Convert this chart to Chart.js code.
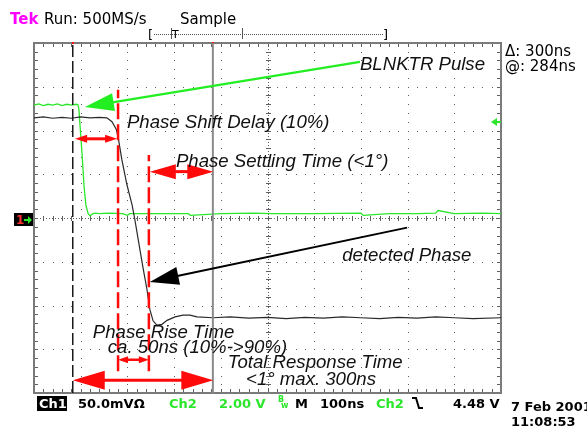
<!DOCTYPE html>
<html>
<head>
<meta charset="utf-8">
<script src="https://cdn.jsdelivr.net/npm/chart.js@4"></script>
<style>
  html, body { margin: 0; padding: 0; background: #fff; }
  canvas { display: block; }
</style>
</head>
<body>
<canvas id="scope" width="587" height="428"></canvas>
<script>
// time axis in ns (100 ns/div, 10 div), vertical axis in screen divisions (-4..4)
const ch2Time = [0, 10, 20, 30, 40, 50, 60, 70, 80, 90, 94, 96, 98, 103, 107, 111, 116, 120, 126, 132, 140, 160, 190, 200, 205, 260, 330, 335, 400, 470, 510, 600, 700, 705, 760, 820, 860, 865, 900, 960, 1000];
const ch2Div  = [2.58, 2.61, 2.57, 2.60, 2.58, 2.61, 2.57, 2.60, 2.58, 2.60, 2.59, 2.50, 2.20, 1.45, 0.75, 0.30, 0.10, 0.05, 0.10, 0.11, 0.10, 0.11, 0.10, 0.06, 0.10, 0.10, 0.10, 0.06, 0.10, 0.11, 0.10, 0.10, 0.11, 0.06, 0.10, 0.10, 0.11, 0.17, 0.10, 0.11, 0.10];

const ch1Time = [0, 20, 40, 60, 80, 100, 120, 140, 156, 167, 176, 180, 188, 199, 210, 216, 225, 233, 242, 248, 255, 263, 274, 285, 302, 319, 334, 349, 383, 420, 460, 500, 540, 580, 620, 660, 700, 740, 780, 820, 860, 900, 940, 1000];
const ch1Div  = [2.29, 2.31, 2.28, 2.30, 2.28, 2.31, 2.29, 2.30, 2.29, 2.20, 2.03, 1.86, 1.34, 0.76, 0.30, -0.04, -0.61, -1.11, -1.64, -2.09, -2.35, -2.45, -2.43, -2.34, -2.26, -2.22, -2.22, -2.26, -2.28, -2.26, -2.29, -2.27, -2.30, -2.27, -2.29, -2.26, -2.28, -2.30, -2.27, -2.29, -2.26, -2.28, -2.30, -2.28];

// cursors and measurement markers (ns)
const cursorA = 83;
const cursorB = 383;
const mark10 = 180;
const mark90 = 246;

// annotation arrows [x1, y1, x2, y2] in ns / div
const redArrows = [
  [88, 1.81, 178, 1.81],
  [248, 1.06, 384, 1.06],
  [180, -3.24, 246, -3.24],
  [83, -3.71, 384, -3.71]
];
const greenArrow = [698, 3.57, 109, 2.54];
const blackArrow = [799, -0.22, 248, -1.46];

// annotation texts [text, x (ns), baseline (div)]
const notes = [
  ['BLNKTR Pulse', 698, 3.39],
  ['Phase Shift Delay (10%)', 199, 2.06],
  ['Phase Settling Time (<1\u00b0)', 304, 1.17],
  ['detected Phase', 660, -0.98],
  ['Phase Rise Time', 126, -2.74],
  ['ca. 50ns (10%->90%)', 158, -3.08],
  ['Total Response Time', 415, -3.42],
  ['<1\u00b0 max. 300ns', 454, -3.81]
];

const GREEN = '#2be62b';
const toPts = (xs, ys) => xs.map((t, i) => ({x: t, y: ys[i]}));
const vLine = (t, lo, hi) => [{x: t, y: lo}, {x: t, y: hi}];

// Tek style graticule
const graticule = {
  id: 'graticule',
  beforeDatasetsDraw(chart) {
    const {ctx, chartArea: a, scales: {x, y}} = chart;
    ctx.save();
    ctx.fillStyle = '#606060';
    // dotted division lines
    for (let i = 1; i < 10; i++) {
      if (i === 5) continue;
      const px = Math.round(x.getPixelForValue(i * 100));
      for (let j = 1; j < 40; j++) {
        const py = Math.round(y.getPixelForValue(-4 + j * 0.2));
        ctx.fillRect(px, py, 1, 1);
      }
    }
    for (let i = -3; i <= 3; i++) {
      if (i === 0) continue;
      const py = Math.round(y.getPixelForValue(i));
      for (let j = 1; j < 50; j++) {
        const px = Math.round(x.getPixelForValue(j * 20));
        ctx.fillRect(px, py, 1, 1);
      }
    }
    // centre axes with minor ticks
    const cx = Math.round(x.getPixelForValue(500));
    const cy = Math.round(y.getPixelForValue(0));
    for (let py = a.top; py < a.bottom; py += 3) ctx.fillRect(cx, Math.round(py), 1, 1);
    for (let px = a.left; px < a.right; px += 3) ctx.fillRect(Math.round(px), cy, 1, 1);
    for (let j = 1; j < 40; j++) {
      const py = Math.round(y.getPixelForValue(-4 + j * 0.2));
      ctx.fillRect(cx - 2, py, 5, 1);
      ctx.fillRect(a.left, py, 4, 1);
      ctx.fillRect(a.right - 4, py, 4, 1);
    }
    for (let j = 1; j < 50; j++) {
      const px = Math.round(x.getPixelForValue(j * 20));
      ctx.fillRect(px, cy - 2, 1, 5);
      ctx.fillRect(px, a.top, 1, 4);
      ctx.fillRect(px, a.bottom - 4, 1, 4);
    }
    ctx.strokeStyle = '#7a7a7a';
    ctx.lineWidth = 2;
    ctx.strokeRect(a.left, a.top, a.right - a.left, a.bottom - a.top);
    // cursor markers on the top edge
    ctx.fillStyle = '#ff0a0a';
    [cursorA, cursorB].forEach(t => ctx.fillRect(Math.round(x.getPixelForValue(t)) - 1, a.top - 1, 2, 2));
    ctx.restore();
  }
};

function arrow(ctx, x1, y1, x2, y2, len, half, width, color, both) {
  const ang = Math.atan2(y2 - y1, x2 - x1);
  const c = Math.cos(ang), s = Math.sin(ang);
  ctx.strokeStyle = color;
  ctx.fillStyle = color;
  ctx.lineWidth = width;
  ctx.beginPath();
  ctx.moveTo(x1 + (both ? c * len * 0.8 : 0), y1 + (both ? s * len * 0.8 : 0));
  ctx.lineTo(x2 - c * len * 0.8, y2 - s * len * 0.8);
  ctx.stroke();
  const head = (tx, ty, dc, ds) => {
    ctx.beginPath();
    ctx.moveTo(tx, ty);
    ctx.lineTo(tx - dc * len - ds * half, ty - ds * len + dc * half);
    ctx.lineTo(tx - dc * len + ds * half, ty - ds * len - dc * half);
    ctx.closePath();
    ctx.fill();
  };
  head(x2, y2, c, s);
  if (both) head(x1, y1, -c, -s);
}

const annotations = {
  id: 'annotations',
  afterDatasetsDraw(chart) {
    const {ctx, scales: {x, y}} = chart;
    const P = (t, d) => [x.getPixelForValue(t), y.getPixelForValue(d)];
    ctx.save();
    const sizes = [[12, 4, 3], [26, 7.5, 3], [10, 3.5, 2.5], [32, 9.5, 3]];
    redArrows.forEach((r, i) => {
      const [a1, b1] = P(r[0], r[1]);
      const [a2, b2] = P(r[2], r[3]);
      arrow(ctx, a1, b1, a2, b2, sizes[i][0], sizes[i][1], sizes[i][2], '#ff0a0a', true);
    });
    let [g1, h1] = P(greenArrow[0], greenArrow[1]);
    let [g2, h2] = P(greenArrow[2], greenArrow[3]);
    arrow(ctx, g1, h1, g2, h2, 29, 9, 2.2, '#22ee22', false);
    [g1, h1] = P(blackArrow[0], blackArrow[1]);
    [g2, h2] = P(blackArrow[2], blackArrow[3]);
    arrow(ctx, g1, h1, g2, h2, 29, 9, 2, '#000', false);

    ctx.fillStyle = '#111';
    ctx.font = 'italic 18.6px "Liberation Sans", Arial, sans-serif';
    ctx.textBaseline = 'alphabetic';
    notes.forEach(n => {
      const [tx, ty] = P(n[1], n[2]);
      ctx.fillText(n[0], tx, ty);
    });
    ctx.restore();
  },
  afterDraw(chart) {
    const {ctx} = chart;
    ctx.save();
    ctx.textBaseline = 'alphabetic';
    // header
    ctx.font = 'bold 15px "DejaVu Sans", sans-serif';
    ctx.fillStyle = '#ff00ff';
    ctx.fillText('Tek', 10, 24);
    ctx.font = '15px "DejaVu Sans", sans-serif';
    ctx.fillStyle = '#000';
    ctx.fillText('Run: 500MS/s', 44, 24);
    ctx.fillText('Sample', 180, 24);
    // record bracket
    ctx.font = '13px "DejaVu Sans", sans-serif';
    ctx.fillText('[', 148, 39);
    ctx.fillText(']', 383, 39);
    ctx.fillStyle = '#555';
    for (let px = 154; px < 383; px += 2) ctx.fillRect(px, 34, 1, 1);
    ctx.fillRect(171, 28, 1, 11);
    ctx.fillRect(242, 28, 1, 11);
    ctx.fillStyle = '#000';
    ctx.font = '11px "DejaVu Sans", sans-serif';
    ctx.fillText('T', 172, 38);
    // cursor readout
    ctx.font = '15px "DejaVu Sans", sans-serif';
    ctx.fillText('\u0394: 300ns', 505, 56);
    ctx.fillText('@: 284ns', 505, 71);
    // Ch2 trigger level marker
    ctx.fillStyle = GREEN;
    ctx.beginPath();
    ctx.moveTo(491, 122);
    ctx.lineTo(497, 118);
    ctx.lineTo(497, 126);
    ctx.closePath();
    ctx.fill();
    ctx.fillRect(497, 121, 4, 2);
    // Ch1 ground marker
    ctx.fillStyle = '#000';
    ctx.fillRect(14, 213, 19, 13);
    ctx.font = 'bold 12px "DejaVu Sans", sans-serif';
    ctx.fillStyle = '#ff3030';
    ctx.fillText('1', 16, 224);
    ctx.fillStyle = GREEN;
    ctx.fillRect(24, 219, 5, 2);
    ctx.beginPath();
    ctx.moveTo(32, 220);
    ctx.lineTo(28, 216);
    ctx.lineTo(28, 224);
    ctx.closePath();
    ctx.fill();
    // status line
    ctx.fillStyle = '#000';
    ctx.fillRect(37, 396, 30, 15);
    ctx.font = 'bold 13px "DejaVu Sans", sans-serif';
    ctx.fillStyle = '#fff';
    ctx.fillText('Ch1', 39, 408);
    ctx.fillStyle = '#000';
    ctx.fillText('50.0mV\u03a9', 78, 408);
    ctx.fillText('M', 295, 408);
    ctx.fillText('100ns', 320, 408);
    ctx.fillText('4.48 V', 453, 408);
    ctx.fillStyle = GREEN;
    ctx.fillText('Ch2', 169, 408);
    ctx.fillText('2.00 V', 219, 408);
    ctx.fillText('Ch2', 376, 408);
    ctx.font = 'bold 8px "DejaVu Sans", sans-serif';
    ctx.fillText('B', 278, 402);
    ctx.fillText('w', 281, 408);
    ctx.strokeStyle = '#000';
    ctx.lineWidth = 2;
    ctx.beginPath();
    ctx.moveTo(412, 398);
    ctx.lineTo(416, 398);
    ctx.lineTo(419, 408);
    ctx.lineTo(423, 408);
    ctx.stroke();
    ctx.fillStyle = '#000';
    ctx.font = 'bold 13px "DejaVu Sans", sans-serif';
    ctx.fillText('7 Feb 2001', 511, 411);
    ctx.fillText('11:08:53', 511, 426);
    ctx.restore();
  }
};

new Chart(document.getElementById('scope'), {
  type: 'line',
  data: {
    datasets: [
      {label: 'Ch2', data: toPts(ch2Time, ch2Div), borderColor: GREEN, borderWidth: 1.3, order: 3},
      {label: 'Ch1', data: toPts(ch1Time, ch1Div), borderColor: '#2a2a2a', borderWidth: 1.2, order: 2},
      {label: 'cursor A', data: vLine(cursorA, -4, 4), borderColor: '#1a1a1a', borderWidth: 1.5, borderDash: [12, 4], order: 1},
      {label: 'cursor B', data: vLine(cursorB, -4, 4), borderColor: '#8a8a8a', borderWidth: 2, order: 1},
      {label: '10%', data: vLine(mark10, -3.5, 2.93), borderColor: '#ff0a0a', borderWidth: 2.5, borderDash: [16, 5], order: 0},
      {label: '90%', data: vLine(mark90, -3.5, 1.44), borderColor: '#ff0a0a', borderWidth: 2.5, borderDash: [16, 5], order: 0}
    ]
  },
  options: {
    responsive: false,
    animation: false,
    events: [],
    layout: {padding: {left: 34, right: 86, top: 43, bottom: 35}},
    elements: {point: {radius: 0}, line: {tension: 0}},
    scales: {
      x: {type: 'linear', min: 0, max: 1000, display: false},
      y: {min: -4, max: 4, display: false}
    },
    plugins: {legend: {display: false}, tooltip: {enabled: false}}
  },
  plugins: [graticule, annotations]
});
</script>
</body>
</html>
